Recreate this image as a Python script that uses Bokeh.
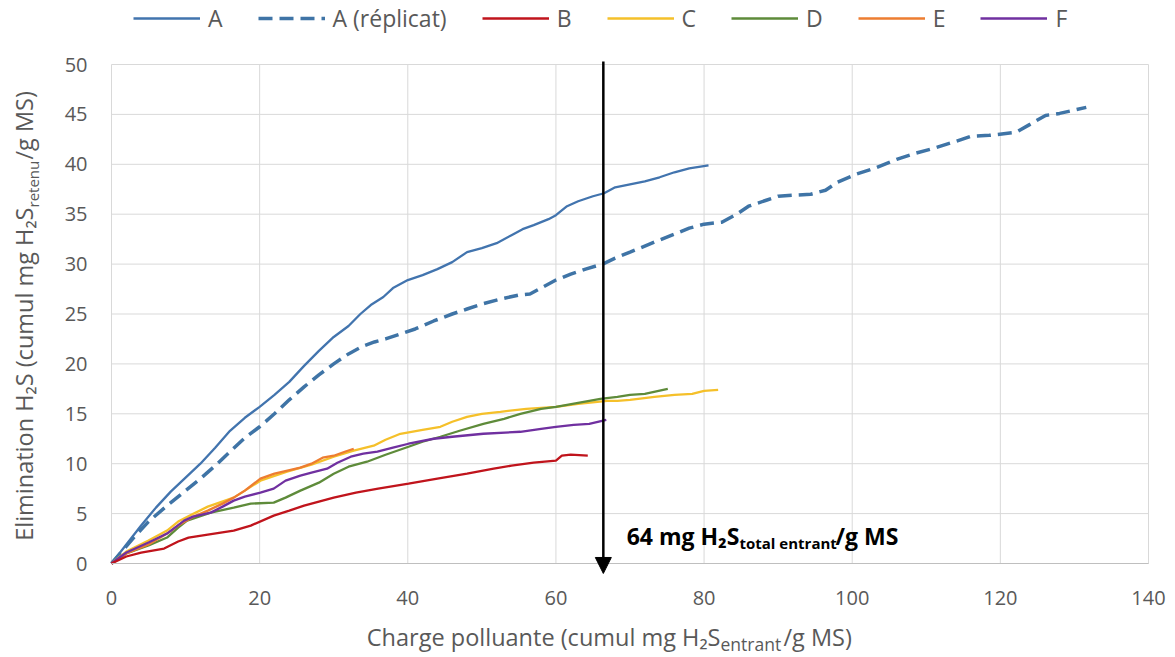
import math
from bokeh.plotting import figure
from bokeh.models import (Range1d, FixedTicker, Legend, LegendItem, Label, Arrow, NormalHead,
                          LinearAxis)
from bokeh.embed import file_html
from bokeh.resources import INLINE

# ---------------- data ----------------
a_x = [0, 2, 4, 6, 8, 10, 12, 14, 16, 18, 20, 22, 24, 26, 28, 30, 32, 33.6, 35, 36.7, 38, 40,
       42, 44, 46, 48, 50, 52, 54, 55.5, 57, 59, 60, 61.5, 63, 65, 66.5, 68, 70, 72, 74, 76, 78, 80.6]
a_y = [0, 1.9, 3.8, 5.6, 7.2, 8.6, 10.0, 11.6, 13.3, 14.6, 15.7, 16.9, 18.2, 19.8, 21.3, 22.7, 23.8,
       25.0, 25.9, 26.7, 27.6, 28.4, 28.9, 29.5, 30.2, 31.2, 31.6, 32.1, 32.9, 33.5, 33.9, 34.5, 34.9,
       35.8, 36.3, 36.8, 37.1, 37.7, 38.0, 38.3, 38.7, 39.2, 39.6, 39.9]

ar_x = [0, 3, 5, 7.5, 10, 12, 14, 16, 18, 20, 22, 24, 26, 28, 30, 32, 34, 35.5, 37, 39, 41, 43.5,
        46, 48, 50, 52.5, 55, 56.5, 58, 60, 62, 64, 66.3, 68, 70, 73.3, 76, 78, 80, 82.4, 84.4, 86,
        88.4, 90, 92, 94.4, 96.4, 98, 100.5, 103, 106, 108.5, 111, 114, 116, 118.5, 122.1, 124,
        126.1, 128, 131.6]
ar_y = [0, 2.6, 4.2, 5.8, 7.3, 8.5, 9.8, 11.2, 12.6, 13.7, 15.0, 16.4, 17.7, 18.9, 20.0, 21.0, 21.8,
        22.2, 22.5, 23.0, 23.5, 24.3, 25.0, 25.5, 26.0, 26.5, 26.9, 27.0, 27.6, 28.4, 29.0, 29.5,
        30.0, 30.6, 31.2, 32.2, 33.0, 33.6, 34.0, 34.2, 35.0, 35.8, 36.4, 36.8, 36.9, 37.0, 37.4,
        38.2, 39.0, 39.6, 40.5, 41.1, 41.6, 42.3, 42.8, 42.9, 43.2, 44.0, 44.9, 45.1, 45.7]

b_x = [0, 2, 4, 7.1, 9, 10.4, 13, 16.5, 18.8, 21.9, 24, 26, 28, 30, 33, 36, 40.1, 44, 48, 51.6,
       54, 57, 60, 60.8, 62, 64.3]
b_y = [0, 0.7, 1.1, 1.5, 2.2, 2.6, 2.9, 3.3, 3.8, 4.8, 5.3, 5.8, 6.2, 6.6, 7.1, 7.5, 8.0, 8.5, 9.0,
       9.5, 9.8, 10.1, 10.3, 10.8, 10.9, 10.8]

c_x = [0, 2, 5, 7.5, 9, 11.1, 13, 16.5, 18, 20.1, 23.7, 27, 30, 32.7, 35.4, 37, 39, 42, 44.4, 46,
       48, 50, 52.5, 56, 60, 63, 66.9, 68.3, 70, 73.3, 76, 78.4, 80, 81.9]
c_y = [0, 1.2, 2.3, 3.3, 4.2, 5.0, 5.7, 6.6, 7.3, 8.3, 9.2, 9.9, 10.7, 11.3, 11.8, 12.4, 13.0, 13.4,
       13.7, 14.2, 14.7, 15.0, 15.2, 15.5, 15.7, 16.0, 16.3, 16.3, 16.4, 16.7, 16.9, 17.0, 17.3, 17.4]

d_x = [0, 2, 5, 7.5, 9, 10.2, 13.4, 16.5, 18.8, 21.9, 23.5, 25.5, 28, 30, 32, 34.5, 37, 40.1, 42,
       44.4, 47, 50.2, 53, 55.2, 58, 60, 63, 66, 68.3, 70, 72, 75.1]
d_y = [0, 1.0, 1.8, 2.6, 3.6, 4.3, 5.1, 5.6, 6.0, 6.1, 6.6, 7.3, 8.1, 9.0, 9.7, 10.2, 10.9, 11.7,
       12.2, 12.7, 13.3, 14.0, 14.5, 15.0, 15.5, 15.7, 16.1, 16.5, 16.7, 16.9, 17.0, 17.5]

e_x = [0, 2, 5, 7.5, 9, 11.1, 13, 15, 16.5, 18, 20.1, 22, 25.5, 27, 28.5, 30, 31.5, 32.7]
e_y = [0, 1.0, 1.9, 3.0, 3.8, 4.7, 5.3, 6.0, 6.6, 7.3, 8.5, 9.0, 9.6, 10.0, 10.6, 10.8, 11.2, 11.5]

f_x = [0, 2, 5, 7.5, 9.8, 11, 13.4, 15, 16.5, 18, 20.1, 21.9, 23.5, 25.5, 27, 29.1, 30.5, 32.3, 34,
       35.9, 38, 40.1, 43.5, 46, 50.2, 55.2, 58, 60, 62.4, 64.5, 66.8]
f_y = [0, 1.1, 2.1, 3.0, 4.3, 4.7, 5.1, 5.7, 6.3, 6.7, 7.1, 7.5, 8.3, 8.8, 9.1, 9.5, 10.1, 10.7, 11.0,
       11.2, 11.6, 12.0, 12.5, 12.7, 13.0, 13.2, 13.5, 13.7, 13.9, 14.0, 14.4]

series_names = ["A", "A (réplicat)", "B", "C", "D", "E", "F"]
x_ticks = [0, 20, 40, 60, 80, 100, 120, 140]
y_ticks = [0, 5, 10, 15, 20, 25, 30, 35, 40, 45, 50]
x_lim = (0, 140)
y_lim = (0, 50)
arrow_x = 66.4

# ---------------- styling / layout ----------------
FONT = "Open Sans"
GREY = "#595959"
colors = ["#4274AE", "#3F74A6", "#C0141C", "#F5C02A", "#5E8B3A", "#ED7D31", "#7030A0"]

W, H = 1174, 656
# pixel position of the plotting area inside the canvas
PL, PR, PT, PB = 111, 1148, 64, 563
sx = (PR - PL) / (x_lim[1] - x_lim[0])
sy = (PB - PT) / (y_lim[1] - y_lim[0])

p = figure(width=W, height=H, output_backend="svg", toolbar_location=None,
           x_range=Range1d(x_lim[0] - PL / sx, x_lim[1] + (W - PR) / sx),
           y_range=Range1d(y_lim[0] - (H - PB) / sy, y_lim[1] + PT / sy),
           x_axis_location=None, y_axis_location=None,
           min_border=0, min_border_left=0, min_border_right=0, min_border_top=0, min_border_bottom=0)
p.outline_line_color = None
p.background_fill_color = "white"
p.border_fill_color = "white"
p.xgrid.visible = False
p.ygrid.visible = False

# grid lines from the tick lists
p.segment(x0=x_ticks, y0=[y_lim[0]] * len(x_ticks), x1=x_ticks, y1=[y_lim[1]] * len(x_ticks),
          line_color="#D9D9D9", line_width=1)
p.segment(x0=[x_lim[0]] * len(y_ticks), y0=y_ticks, x1=[x_lim[1]] * len(y_ticks), y1=y_ticks,
          line_color="#D9D9D9", line_width=1)

xa = LinearAxis(fixed_location=0, ticker=FixedTicker(ticks=x_ticks), bounds=x_lim)
ya = LinearAxis(fixed_location=0, ticker=FixedTicker(ticks=y_ticks), bounds=y_lim)
for ax in (xa, ya):
    ax.major_tick_line_color = None
    ax.minor_tick_line_color = None
    ax.major_tick_out = 0
    ax.major_tick_in = 0
    ax.major_label_text_font = FONT
    ax.major_label_text_font_size = "20px"
    ax.major_label_text_color = GREY
xa.major_label_standoff = 27
ya.major_label_standoff = 24
xa.axis_line_color = "#BFBFBF"
ya.axis_line_color = None
p.add_layout(xa, "below")
p.add_layout(ya, "left")

data = [(a_x, a_y), (ar_x, ar_y), (b_x, b_y), (c_x, c_y), (d_x, d_y), (e_x, e_y), (f_x, f_y)]
order = [0, 1, 3, 4, 5, 6, 2]
renderers = {}
for i in order:
    xs, ys = data[i]
    if i == 1:
        r = p.line(xs, ys, line_color=colors[i], line_width=3.5, line_dash="14 7")
    else:
        r = p.line(xs, ys, line_color=colors[i], line_width=2.3)
    renderers[i] = r

# legend: location = bottom-left corner of the legend box (from the canvas bottom)
legend = Legend(items=[LegendItem(label=series_names[i], renderers=[renderers[i]]) for i in range(7)],
                orientation="horizontal", location=(133, H - 34),
                glyph_width=67, glyph_height=28, label_standoff=8, spacing=35, label_width=0,
                label_height=28, padding=0, margin=0, border_line_color=None,
                background_fill_alpha=0,
                label_text_font=FONT, label_text_font_size="23px", label_text_color=GREY)
p.add_layout(legend)

# arrow
p.add_layout(Arrow(end=NormalHead(size=16, fill_color="black", line_color="black"),
                   x_start=arrow_x, y_start=y_lim[1] + 0.3, x_end=arrow_x, y_end=y_lim[0] - 1.0,
                   line_width=2.5, line_color="black"))


def lab(text, px, py, size, align="left", angle=0.0, bold=False, color=GREY):
    """Text whose baseline passes through canvas pixel (px, py) (from the canvas top-left)."""
    shift = 0.33 * size
    if angle:
        px -= shift
    else:
        py -= shift
    p.add_layout(Label(x=0, y=0, x_offset=px - PL, y_offset=PB - py, text=text,
                       text_font=FONT, text_font_size=f"{size}px", text_align=align,
                       text_baseline="middle", angle=angle, text_color=color,
                       text_font_style="bold" if bold else "normal"))


# x axis title
lab("Charge polluante (cumul mg H\u2082S", 720, 644, 23.5, align="right")
lab("entrant", 720, 649, 17.5)
lab("/g MS)", 783, 644, 23.5)

# y axis title
lab("Elimination H\u2082S (cumul mg H\u2082S", 31, 207, 23.5, align="right", angle=math.pi / 2)
lab("retenu", 37, 207, 15, angle=math.pi / 2)
lab("/g MS)", 31, 159, 23.5, angle=math.pi / 2)

# annotation
lab("64 mg H\u2082S", 739, 543, 23, align="right", bold=True, color="black")
lab("total entrant", 739, 547, 15, bold=True, color="black")
lab("/g MS", 835, 543, 23, bold=True, color="black")

open("out.html", "w").write(file_html(p, INLINE))
